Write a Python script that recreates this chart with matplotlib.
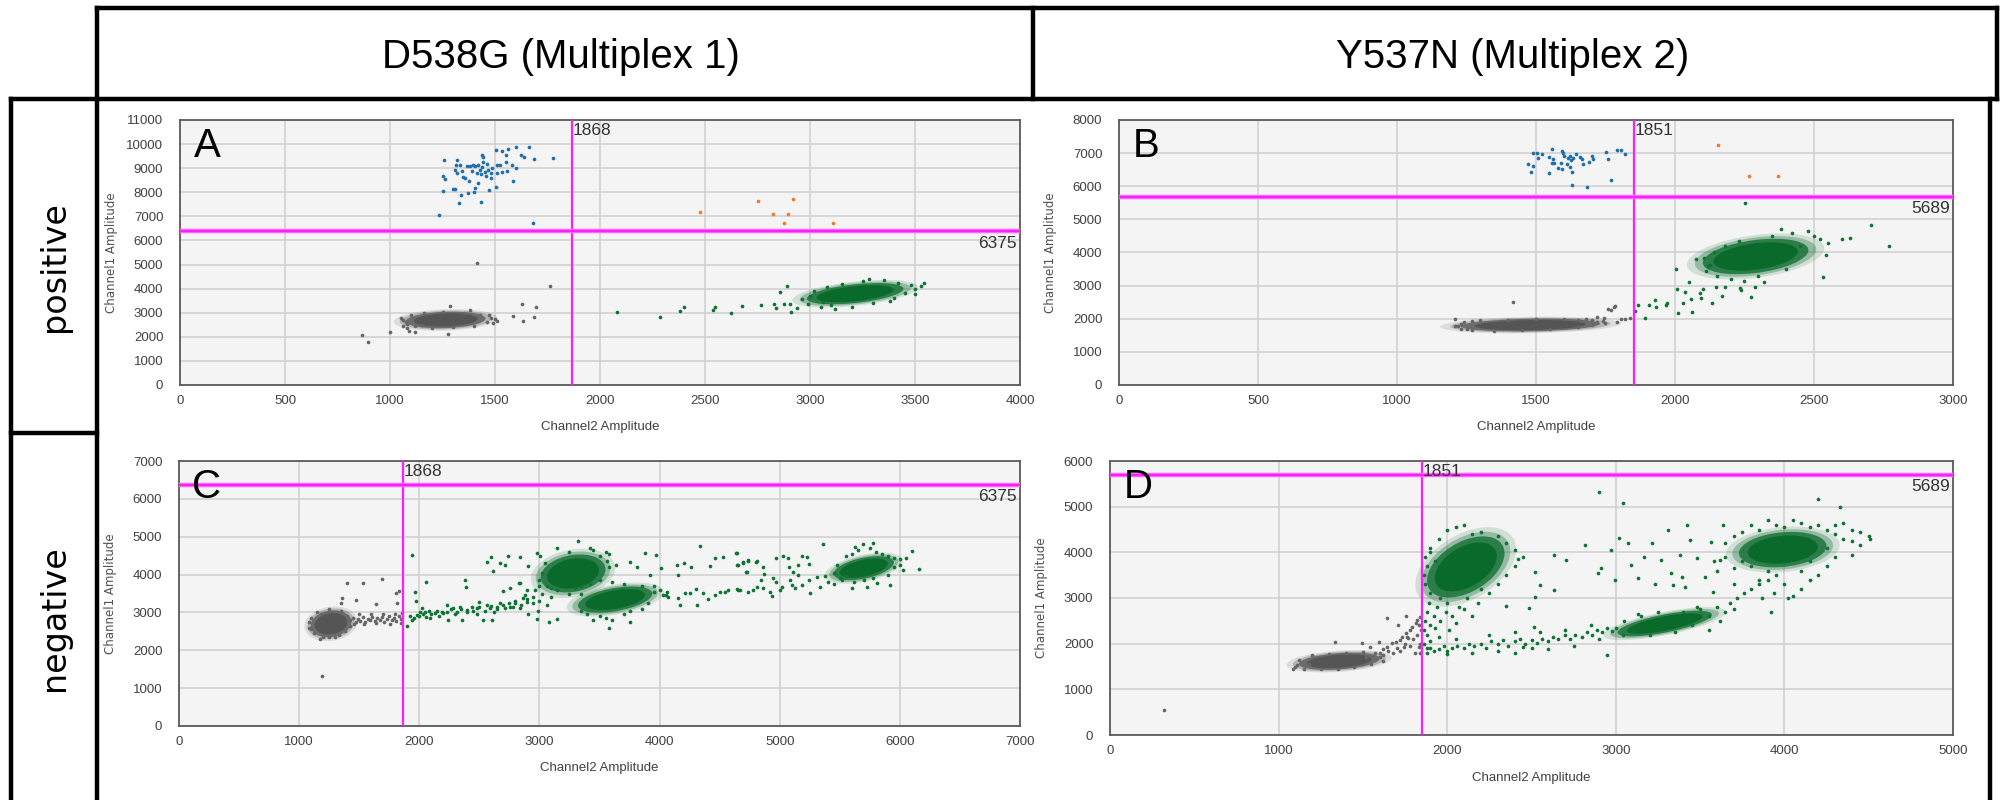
import numpy as np
import matplotlib
matplotlib.use('Agg')
import matplotlib.pyplot as plt
from matplotlib.patches import Ellipse
from matplotlib.lines import Line2D
from matplotlib.transforms import Affine2D

# ---------------- data ----------------
col_titles = ['D538G (Multiplex 1)', 'Y537N (Multiplex 2)']
row_titles = ['positive', 'negative']
panel_letters = ['A', 'B', 'C', 'D']

# thresholds (Channel2, Channel1)
thr_ch2 = [1868, 1851, 1868, 1851]
thr_ch1 = [6375, 5689, 6375, 5689]

# --- panel A ---
a_blue = [(1256, 9353), (1317, 9353), (1313, 9118), (1333, 9118), (1365, 9090), (1381, 9090),
          (1394, 9118), (1405, 9090), (1421, 9118), (1436, 9561), (1444, 9478), (1444, 9270),
          (1463, 9173), (1505, 9754), (1532, 9699), (1552, 9561), (1563, 9796), (1600, 9865),
          (1662, 9879), (1622, 9533), (1638, 9478), (1687, 9395), (1778, 9409), (1508, 9132),
          (1524, 9132), (1552, 9270), (1581, 9145), (1600, 9021), (1251, 8675), (1262, 8537),
          (1309, 8924), (1341, 8896), (1357, 8578), (1378, 8481), (1417, 8398), (1432, 8758),
          (1457, 8675), (1479, 8578), (1481, 8813), (1508, 8813), (1532, 8855), (1555, 8896),
          (1584, 8481), (1302, 8149), (1309, 8135), (1251, 8052), (1336, 7886), (1373, 7955),
          (1400, 8024), (1405, 8163), (1473, 8080), (1505, 8232), (1330, 7568), (1433, 7582),
          (1235, 7056), (1682, 6737), (1428, 8924), (1436, 9062), (1452, 8855), (1468, 8924),
          (1484, 8993), (1413, 8786), (1389, 8896), (1349, 8647), (1317, 8786)]
a_orange = [(2476, 7194), (2750, 7651), (2920, 7706), (2825, 7083), (2893, 7083), (2877, 6737),
            (3111, 6738)]
a_gray = [(1414, 5077), (1764, 4110), (865, 2075), (895, 1798), (1001, 2213), (1627, 3362),
          (1694, 3252), (1688, 2837), (1588, 2865), (1633, 2671), (1278, 2117), (1284, 3279),
          (1060, 2450), (1080, 2350), (1090, 2250), (1500, 2750), (1510, 2650), (1120, 2200),
          (1150, 2500), (1075, 2600), (1470, 2900), (1490, 2560),
          (1060, 2700), (1080, 2550), (1100, 2900), (1120, 2450), (1160, 3000), (1200, 2350),
          (1250, 3050), (1300, 2400), (1350, 3000), (1400, 2450), (1430, 2900), (1460, 2600),
          (1480, 2800), (1050, 2800), (1380, 3100)]
a_green = [(2079, 3017), (2286, 2837), (2381, 3072), (2401, 3252), (2536, 3113), (2548, 3252),
           (2625, 2975), (2676, 3293), (2765, 3334), (2830, 3362), (2838, 3210), (2857, 3847),
           (2876, 3348), (2892, 4123), (2905, 3362), (2910, 3017), (2940, 3182), (3543, 4234),
           (3502, 3777), (2990, 3350), (3000, 3700), (3020, 3900), (3050, 3250), (3080, 4050),
           (3100, 3300), (3150, 4200), (3200, 3250), (3250, 4300), (3300, 3400), (3350, 4350),
           (3400, 3600), (3420, 4250), (3450, 3800), (3480, 4150), (3500, 4000), (3530, 4100),
           (3380, 3500), (3120, 3150), (2960, 3550), (3060, 3450), (3280, 4400)]
# dense clouds: centre x, centre y, width, height, slope
a_gray_blobs = [(1265, 2700, 380, 680, 0.3)]
a_green_blobs = [(3215, 3790, 460, 780, 0.9)]

# --- panel B ---
b_blue = [(1490, 6994), (1502, 7014), (1520, 6964), (1508, 6843), (1488, 6612), (1472, 6672),
          (1482, 6441), (1548, 6894), (1559, 7135), (1562, 6813), (1566, 6692), (1580, 6541),
          (1595, 7075), (1598, 7014), (1602, 6914), (1590, 6712), (1595, 6511), (1610, 6672),
          (1616, 6843), (1622, 6914), (1626, 6793), (1628, 6441), (1634, 6843), (1644, 6974),
          (1658, 6874), (1664, 6813), (1670, 6672), (1700, 6914), (1704, 6813), (1692, 6743),
          (1752, 7024), (1759, 6833), (1790, 7105), (1805, 7085), (1819, 6984), (1548, 6391),
          (1628, 6039), (1683, 5978), (1769, 6179), (1622, 6592), (1556, 6692)]
b_orange = [(2156, 7236), (2265, 6320), (2372, 6320)]
b_gray = [(1419, 2506), (1781, 2345), (1785, 2385), (1209, 1982), (1209, 1781), (1719, 2063),
          (1744, 2012), (1806, 1982), (1820, 1990), (1837, 2022), (1760, 2300), (1770, 2260),
          (1700, 1950), (1680, 1980), (1790, 1900), (1740, 1930), (1650, 1960), (1250, 1700),
          (1230, 1850), (1720, 1900), (1660, 1920),
          (1230, 1700), (1240, 1900), (1270, 1650), (1300, 1950), (1350, 1640), (1400, 1960),
          (1450, 1650), (1500, 1980), (1550, 1700), (1600, 1990), (1650, 1750), (1700, 1800),
          (1750, 1870), (1270, 1920), (1220, 1780)]
b_green = [(1855, 2244), (1868, 2415), (1893, 2012), (1907, 2415), (1927, 2566), (1930, 2345),
           (1967, 2415), (1973, 2485), (2002, 3492), (2007, 2898), (2012, 2184), (2029, 2485),
           (2036, 2817), (2050, 3119), (2057, 2596), (2062, 2194), (2076, 3794), (2091, 2767),
           (2095, 2616), (2099, 2888), (2103, 3824), (2113, 3451), (2134, 2485), (2147, 2968),
           (2169, 2687), (2125, 3622), (2233, 2918), (2239, 2868), (2274, 2646), (2289, 2968),
           (2533, 3270), (2543, 3924), (2704, 4840), (2770, 4196), (2253, 5505),
           (2150, 3300), (2180, 4200), (2200, 3200), (2230, 4350), (2300, 3300), (2350, 4500),
           (2400, 3500), (2420, 4600), (2450, 4200), (2480, 4650), (2500, 4500), (2520, 4400),
           (2550, 4300), (2600, 4400), (2630, 4450), (2120, 3600), (2140, 4000), (2380, 4700),
           (2250, 3150), (2320, 3100), (2180, 2950)]
b_gray_blobs = [(1480, 1810, 500, 380, 0.15)]
b_green_blobs = [(2290, 3880, 380, 1000, 1.0)]

# --- panel C ---
c_gray = [(1420, 2800), (1450, 2850), (1470, 2750), (1490, 2820), (1510, 2780), (1530, 2870),
          (1550, 2760), (1570, 2830), (1590, 2800), (1610, 2870), (1630, 2770), (1650, 2840),
          (1670, 2810), (1690, 2880), (1710, 2760), (1730, 2830), (1750, 2900), (1770, 2790),
          (1790, 2850), (1810, 2780), (1830, 2900), (1850, 2820), (1845, 2720), (1800, 2950),
          (1700, 2950), (1600, 2950), (1500, 2950), (1460, 2700), (1540, 2700), (1640, 2720),
          (1760, 2700), (1860, 2980), (1396, 3786), (1534, 3768), (1692, 3874), (1354, 3372),
          (1470, 3328), (1346, 3258), (1640, 3214), (1806, 3504), (1831, 3566), (1812, 3240),
          (1187, 1329), (1170, 2300), (1250, 2350), (1100, 2550), (1080, 2750),
          (1080, 2600), (1100, 2850), (1120, 2450), (1150, 3000), (1200, 2350), (1250, 3100),
          (1300, 2350), (1350, 3050), (1380, 2500), (1400, 2900), (1420, 2650), (1180, 2950),
          (1330, 2400)]
c_green = [(1901, 2641), (1937, 2800), (1978, 2932), (2006, 3020), (2034, 2958), (2056, 2888),
           (2020, 3108), (2089, 2844), (2131, 2976), (2186, 3020), (2228, 3196), (2242, 2800),
           (2283, 3108), (2311, 3020), (2339, 3152), (2353, 2800), (2394, 3064), (2436, 3152),
           (2478, 3108), (2500, 3284), (2533, 2800), (2561, 3196), (2589, 3108), (2602, 2800),
           (2644, 3152), (2672, 3240), (2694, 3575), (2714, 3108), (2755, 3152), (2797, 3240),
           (2833, 3768), (2838, 3108), (2866, 3372), (2894, 3284), (2908, 2958), (2949, 3240),
           (2977, 2817), (2991, 3046), (1937, 4517), (2056, 3795), (1967, 3548), (1970, 3310),
           (2381, 3856), (2386, 3680), (2561, 4323), (2597, 4473), (2616, 4094), (2672, 4297),
           (2714, 4253), (2741, 4490), (2838, 4473), (2908, 4226), (2977, 4578), (3005, 4490),
           (3082, 2756), (3144, 2817), (2838, 3768), (2755, 3636), (2894, 3592),
           (2050, 3000), (2100, 2950), (2150, 3050), (2200, 2980), (2260, 3080), (2300, 2950),
           (2350, 3100), (2400, 3000), (2450, 3050), (2500, 3150), (2550, 3050), (2600, 3180),
           (2650, 3100), (2700, 3200), (2750, 3250), (2800, 3300), (2850, 3200), (2900, 3350),
           (2950, 3400), (3000, 3300), (1920, 2900), (1960, 2850), (2000, 2900), (2080, 3050),
           (2160, 2900), (2230, 3000), (2480, 2950), (2620, 3000), (2780, 3150), (2880, 3450),
           (2960, 3600), (3020, 3500), (3060, 3700), (3100, 3400), (3150, 3600), (3000, 3850),
           (3060, 3200), (3250, 3500), (3300, 3650), (3350, 3500),
           (3150, 4700), (3320, 4880), (3420, 4690), (3050, 4300), (3500, 4500), (3560, 4350),
           (3580, 4200), (3020, 4050), (3000, 3700), (3100, 3650), (3500, 3850), (3550, 4600),
           (3450, 4650), (3250, 4600), (3580, 4550),
           (3350, 3050), (3400, 2950), (3500, 2900), (3550, 2850), (3600, 2800), (3700, 2950),
           (3750, 3050), (3850, 3100), (3900, 3250), (3950, 3550), (4000, 3600), (4050, 3450),
           (3350, 3700), (3420, 3750), (3600, 3800), (3700, 3750), (3850, 3700), (3950, 3700),
           (3450, 2800), (3580, 2600), (3750, 2750),
           (4531, 4473), (4636, 4578), (4647, 4253), (4692, 4341), (4739, 4367), (4800, 4341),
           (4719, 4059), (4864, 4191), (4869, 4015), (4844, 3856), (4947, 3900), (4969, 3812),
           (4966, 4429), (5072, 4429), (5080, 4209), (5030, 4490), (5155, 4253), (5188, 4490),
           (5224, 4473), (5241, 4279), (5113, 4077), (5155, 3988), (5086, 3856), (5127, 3636),
           (5183, 3724), (5247, 3856), (5308, 3944), (4503, 3548), (4572, 3592), (4656, 3592),
           (4739, 3548), (4780, 3592), (4864, 3636), (4919, 3548), (4933, 3434), (5002, 3592),
           (5016, 3680), (5100, 3724), (5252, 3504), (5335, 3680), (5363, 4807), (5627, 4737),
           (5696, 4807), (5779, 4843), (5918, 3724), (6029, 4121), (6162, 4138), (6099, 4631),
           (5724, 3680), (5807, 3768), (5599, 3636),
           (4031, 3460), (4073, 3416), (4156, 3372), (4170, 3196), (4212, 3504), (4254, 3504),
           (4303, 3610), (4309, 3196), (4364, 3504), (4406, 3346), (4461, 3460), (4545, 3548),
           (4642, 3619), (4670, 3592), (4808, 3680), (4142, 4253), (4206, 4297), (4262, 4209),
           (4337, 4755), (4420, 4226), (4461, 4429), (4642, 4561), (4656, 4253), (4697, 4297),
           (4725, 4077), (4739, 4385), (4808, 4367), (4156, 3988), (3920, 3988), (3879, 4561),
           (3970, 4517), (4009, 4165), (3754, 4341), (3815, 4209), (3637, 4253), (4059, 3548),
           (5450, 3750), (5500, 3900), (5550, 4500), (5600, 4550), (5650, 4650), (5750, 4700),
           (5800, 4600), (5850, 4550), (5900, 4500), (5950, 4450), (6000, 4400), (6050, 4450),
           (5450, 4050), (5480, 4250), (5520, 3850), (5550, 3950), (5620, 3800), (5700, 3850),
           (5780, 3900), (5900, 4000), (5950, 4200), (6000, 4250), (5380, 3950), (5400, 3800)]
c_gray_blobs = [(1265, 2700, 340, 700, 0.3)]
c_green_blobs = [(3280, 4030, 540, 980, 0.4), (3630, 3340, 620, 620, 0.5),
                 (5700, 4170, 500, 560, 0.6)]

# --- panel D ---
d_gray = [(1520, 1716), (1570, 1789), (1620, 1876), (1645, 1935), (1670, 2007), (1695, 2044),
          (1720, 2080), (1732, 2153), (1757, 2226), (1769, 2117), (1782, 2299), (1794, 2372),
          (1814, 2445), (1819, 2518), (1832, 2409), (1839, 2591), (1844, 2299), (1745, 1935),
          (1645, 2555), (1707, 2409), (1757, 2606), (1333, 2037), (1495, 2007), (1545, 1935),
          (1595, 2044), (1083, 1438), (1108, 1533), (1807, 1789), (1832, 1935), (1600, 1800),
          (1650, 1850), (1700, 1900), (1750, 2000), (1800, 2100), (1820, 2200), (1780, 1950),
          (1720, 1850), (1680, 1800), (1560, 1720), (1620, 1760), (1840, 2000), (1760, 2150),
          (1840, 1800), (320, 550),
          (1100, 1500), (1120, 1650), (1150, 1450), (1200, 1750), (1250, 1450), (1300, 1780),
          (1350, 1440), (1400, 1800), (1450, 1480), (1500, 1820), (1550, 1560), (1600, 1700),
          (1620, 1620), (1180, 1550)]
d_green = [(1860, 2300), (1870, 2500), (1880, 2700), (1890, 2900), (1900, 3100), (1870, 3300),
           (1880, 2200), (1900, 2400), (1920, 2600), (1940, 2800), (1960, 3000), (1930, 2350),
           (1960, 2500), (1990, 2700), (2000, 2900), (2030, 2600), (2050, 2450), (2070, 2800),
           (1950, 2150), (2010, 2300), (1860, 2000), (1880, 1900), (1860, 3500), (1880, 3700),
           (1870, 3900), (1900, 4100), (2100, 2750), (2150, 2600), (2120, 3000), (2180, 2900),
           (2000, 4500), (2050, 4550), (2100, 4600), (2150, 4400), (2200, 4450), (2300, 4350),
           (2350, 4200), (2400, 4050), (2450, 3900), (2400, 3700), (2350, 3500), (2300, 3300),
           (2250, 3100), (1950, 4300), (1900, 4000), (1930, 3800), (2200, 3200), (2420, 3850),
           (2518, 3577), (2631, 3942), (2706, 3832), (2548, 3285), (2518, 3029), (2631, 3175),
           (2349, 2825), (2488, 2774), (2513, 2358),
           (1880, 1800), (1900, 1900), (1920, 1850), (1950, 1880), (1980, 1950), (2000, 1850),
           (2030, 1900), (2060, 1950), (2100, 1900), (2130, 2000), (2160, 1950), (2200, 2000),
           (2230, 1900), (2260, 2050), (2300, 2000), (2330, 2080), (2360, 1950), (2400, 2050),
           (2430, 2100), (2460, 2000), (2500, 2080), (2530, 2020), (2560, 2100), (2600, 2050),
           (2630, 2150), (2660, 2100), (2700, 2180), (2730, 2100), (2760, 2200), (2800, 2150),
           (2830, 2250), (2860, 2200), (2890, 2300), (2920, 2250), (2950, 2350), (2980, 2280),
           (2000, 1780), (2150, 1800), (2300, 1850), (2450, 1920), (2600, 1880), (2750, 1950),
           (2900, 2100), (1900, 2050), (2050, 2100), (2250, 2200), (2400, 2250), (2550, 2250),
           (2700, 2300), (2850, 2400), (2950, 1750), (2400, 1800), (2500, 1900),
           (3000, 2350), (3050, 2500), (3100, 2250), (3150, 2600), (3200, 2200), (3250, 2700),
           (3350, 2250), (3400, 2700), (3450, 2400), (3500, 2750), (3550, 2600), (3600, 2800),
           (3620, 2500), (3650, 2700), (3680, 2900), (3700, 2750), (3550, 2300), (3480, 2800),
           (3040, 2200), (3130, 2650), (3720, 3000), (3760, 3100), (3800, 3200), (3850, 3300),
           (3900, 3400), (3870, 3000), (3940, 3100),
           (3650, 4200), (3700, 4350), (3750, 4450), (3800, 4600), (3850, 4500), (3900, 4700),
           (3950, 4600), (4000, 4550), (4050, 4700), (4100, 4650), (4150, 4550), (4200, 4600),
           (4250, 4500), (4300, 4400), (4350, 4300), (4400, 4250), (4300, 4600), (4350, 4650),
           (4400, 4500), (4450, 4450), (4250, 3700), (4200, 3500), (4150, 3400), (4100, 3200),
           (4050, 3050), (4000, 3300), (3950, 3500), (3900, 3600), (3850, 3400), (3800, 3700),
           (3750, 3800), (3700, 3650), (3650, 3900), (4100, 3600), (4150, 3800), (4300, 3900),
           (4250, 4100), (3920, 2700), (4020, 3000), (3700, 3300), (3600, 3600), (3580, 3800),
           (4400, 3950), (4450, 4150), (4500, 4350),
           (2818, 4161), (2913, 3650), (2973, 4051), (3018, 4307), (3075, 4197), (3093, 3723),
           (3167, 3905), (3212, 4197), (3230, 3299), (3267, 3832), (3312, 4489), (3330, 3540),
           (3380, 3942), (3392, 3453), (3424, 4599), (3442, 4270), (3480, 3869), (3529, 3467),
           (3562, 4234), (3617, 3832), (3637, 4599), (3579, 3139), (2893, 3540), (2993, 3394),
           (3130, 3431), (3342, 3285), (3412, 3248),
           (2900, 5330), (3040, 5090), (4200, 5170), (4330, 5000), (4510, 4290)]
d_gray_blobs = [(1360, 1615, 480, 360, 0.25)]
d_green_blobs = [(2110, 3680, 460, 1200, 1.3), (3290, 2440, 560, 400, 0.7),
                 (3990, 4060, 520, 760, 0.3)]

# axis ranges / tick steps per panel
x_max = [4000, 3000, 7000, 5000]
x_step = [500, 500, 1000, 1000]
y_max = [11000, 8000, 7000, 6000]

# ---------------- styling ----------------
GRAY = '#555555'
GREEN = '#0a6a2b'
BLUE = '#1f6fae'
ORANGE = '#f5782a'
MAGENTA = '#ff1cff'
NARROW = ['Liberation Sans Narrow', 'Liberation Sans', 'DejaVu Sans']
TICKFONT = ['Liberation Sans', 'DejaVu Sans']

plt.rcParams['font.family'] = TICKFONT

fig = plt.figure(figsize=(20, 8), dpi=100)

# axes rectangles in pixels: left, top, right, bottom
rects_px = [(180, 120, 1020, 385), (1119, 120, 1953, 385),
            (179, 461, 1020, 726), (1110, 461, 1953, 735)]


def px_rect(l, t, r, b):
    return [l / 2000, 1 - b / 800, (r - l) / 2000, (b - t) / 800]


def add_blob(ax, blob, color):
    cx, cy, w, h, slope = blob
    shear = Affine2D().translate(-cx, -cy).skew(0, np.arctan(slope)).translate(cx, cy)
    # soft edge built from a few stacked ellipses
    for scale, alpha in [(1.3, 0.15), (1.15, 0.3), (1.0, 0.75), (0.8, 1.0)]:
        e = Ellipse((cx, cy), w * scale, h * scale, facecolor=color, edgecolor='none',
                    alpha=alpha, zorder=2)
        e.set_transform(shear + ax.transData)
        ax.add_patch(e)


def dots(ax, pts, color):
    if not pts:
        return
    xy = np.array(pts).T
    ax.scatter(xy[0], xy[1], s=7, color=color, linewidths=0, zorder=3)


panels = [
    (a_gray, a_gray_blobs, a_green, a_green_blobs, a_blue, a_orange),
    (b_gray, b_gray_blobs, b_green, b_green_blobs, b_blue, b_orange),
    (c_gray, c_gray_blobs, c_green, c_green_blobs, [], []),
    (d_gray, d_gray_blobs, d_green, d_green_blobs, [], []),
]

for i, (gray, gblobs, green, grblobs, blue, orange) in enumerate(panels):
    l, t, r, b = rects_px[i]
    ax = fig.add_axes(px_rect(l, t, r, b))
    ax.set_facecolor('#f4f4f4')
    ax.set_xlim(0, x_max[i])
    ax.set_ylim(0, y_max[i])
    ax.set_xticks(np.arange(0, x_max[i] + 1, x_step[i]))
    ax.set_yticks(np.arange(0, y_max[i] + 1, 1000))
    ax.set_axisbelow(True)
    ax.grid(True, color='#cfcfcf', lw=1.1)
    ax.tick_params(length=0, labelsize=9.5, labelcolor='#404040')
    ax.tick_params(axis='y', pad=12)
    ax.tick_params(axis='x', pad=7)
    for s in ax.spines.values():
        s.set_color('#5a5a5a')
        s.set_linewidth(1.3)

    for blob in gblobs:
        add_blob(ax, blob, GRAY)
    for blob in grblobs:
        add_blob(ax, blob, GREEN)
    dots(ax, gray, '#666666')
    dots(ax, green, '#0e7433')
    dots(ax, blue, BLUE)
    dots(ax, orange, ORANGE)

    ax.axvline(thr_ch2[i], color=MAGENTA, lw=1.6, zorder=4)
    ax.axhline(thr_ch1[i], color='#ff66ff', lw=3.2, zorder=4)
    ax.axhline(thr_ch1[i], color=MAGENTA, lw=1.4, zorder=4)
    ax.annotate(str(thr_ch2[i]), (thr_ch2[i], y_max[i]), xytext=(0.5, -2),
                textcoords='offset points', ha='left', va='top', fontsize=12.5,
                color='#333333', family=NARROW, zorder=5)
    ax.annotate(str(thr_ch1[i]), (x_max[i], thr_ch1[i]), xytext=(-2, -3),
                textcoords='offset points', ha='right', va='top', fontsize=12.5,
                color='#333333', family=NARROW, zorder=5)
    ax.text(0.016, 0.975, panel_letters[i], transform=ax.transAxes, ha='left', va='top',
            fontsize=29, family=NARROW, color='black', zorder=5)

    ax.set_xlabel('Channel2 Amplitude', fontsize=9.5, color='#404040')
    ax.set_ylabel('Channel1 Amplitude', fontsize=8.5, color='#505050', family='DejaVu Sans')
    ax.xaxis.set_label_coords(0.5, -0.135)
    ax.yaxis.set_label_coords(-0.074, 0.5)

# ---------------- table frame ----------------
def hline(y, x0, x1):
    fig.add_artist(Line2D([x0 / 2000, x1 / 2000], [1 - y / 800, 1 - y / 800],
                          transform=fig.transFigure, color='black', lw=3.2,
                          solid_capstyle='projecting'))


def vline(x, y0, y1):
    fig.add_artist(Line2D([x / 2000, x / 2000], [1 - y0 / 800, 1 - y1 / 800],
                          transform=fig.transFigure, color='black', lw=3.2,
                          solid_capstyle='projecting'))


hline(8, 97, 1997)
hline(99, 11, 1997)
hline(433, 11, 97)
vline(97, 8, 800)
vline(1033, 8, 99)
vline(1997, 8, 99)
vline(1990, 99, 800)
vline(11, 99, 800)

fig.text(561 / 2000, 1 - 57 / 800, col_titles[0], ha='center', va='center', fontsize=29,
         family=NARROW)
fig.text(1513 / 2000, 1 - 57 / 800, col_titles[1], ha='center', va='center', fontsize=29,
         family=NARROW)
fig.text(54 / 2000, 1 - 267 / 800, row_titles[0], ha='center', va='center', fontsize=24,
         rotation=90, family='DejaVu Sans')
fig.text(54 / 2000, 1 - 618 / 800, row_titles[1], ha='center', va='center', fontsize=24,
         rotation=90, family='DejaVu Sans')

fig.savefig('out.png', dpi=100, facecolor='white')
